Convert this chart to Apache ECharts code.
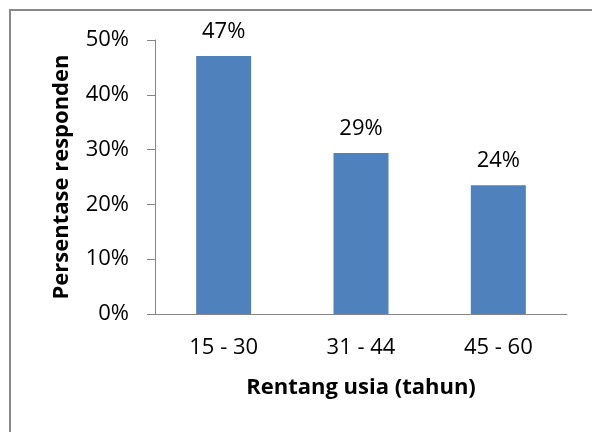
<!DOCTYPE html>
<html>
<head>
<meta charset="utf-8">
<script src="https://cdn.jsdelivr.net/npm/echarts@6/dist/echarts.min.js"></script>
<style>
  html, body { margin: 0; padding: 0; background: #fff; }
  #chart { width: 592px; height: 432px; }
</style>
</head>
<body>
<div id="chart"></div>
<script>
// kelompok usia dan persentase responden
const categories = ["15 - 30", "31 - 44", "45 - 60"];
const values = [47.1, 29.4, 23.5];
const yTicks = [0, 10, 20, 30, 40, 50];

const fontFamily = "'Open Sans', sans-serif";
const axisGray = "#868686";

let chart = echarts.init(document.getElementById("chart"));
let option = {
  animation: false,
  textStyle: { fontFamily: fontFamily },
  graphic: [
    {
      type: "polyline",
      shape: { points: [[10, 440], [10, 10], [600, 10]] },
      style: { stroke: "#898989", lineWidth: 2, fill: null }
    }
  ],
  grid: { left: 155, right: 25, top: 40, bottom: 118 },
  xAxis: {
    type: "category",
    data: categories,
    name: "Rentang usia (tahun)",
    nameLocation: "middle",
    nameGap: 63,
    nameTextStyle: { fontSize: 22, fontWeight: "bold", color: "#000" },
    axisLine: { lineStyle: { color: axisGray, width: 1 } },
    axisTick: { length: 8, lineStyle: { color: axisGray } },
    axisLabel: { fontSize: 22, color: "#000", margin: 23 }
  },
  yAxis: {
    type: "value",
    min: yTicks[0],
    max: yTicks[yTicks.length - 1],
    interval: 10,
    name: "Persentase responden",
    nameLocation: "middle",
    nameGap: 82,
    nameTextStyle: { fontSize: 22, fontWeight: "bold", color: "#000" },
    axisLine: { show: true, lineStyle: { color: axisGray, width: 1 } },
    axisTick: { show: true, length: 8, lineStyle: { color: axisGray } },
    splitLine: { show: false },
    axisLabel: {
      fontSize: 22,
      color: "#000",
      margin: 26,
      formatter: v => v + "%"
    }
  },
  series: [
    {
      type: "bar",
      data: values,
      barWidth: 55,
      itemStyle: { color: "#4F81BD" },
      label: {
        show: true,
        position: "top",
        distance: 13,
        fontSize: 22,
        color: "#000",
        formatter: p => Math.round(p.value) + "%"
      }
    }
  ]
};
chart.setOption(option);
</script>
</body>
</html>
